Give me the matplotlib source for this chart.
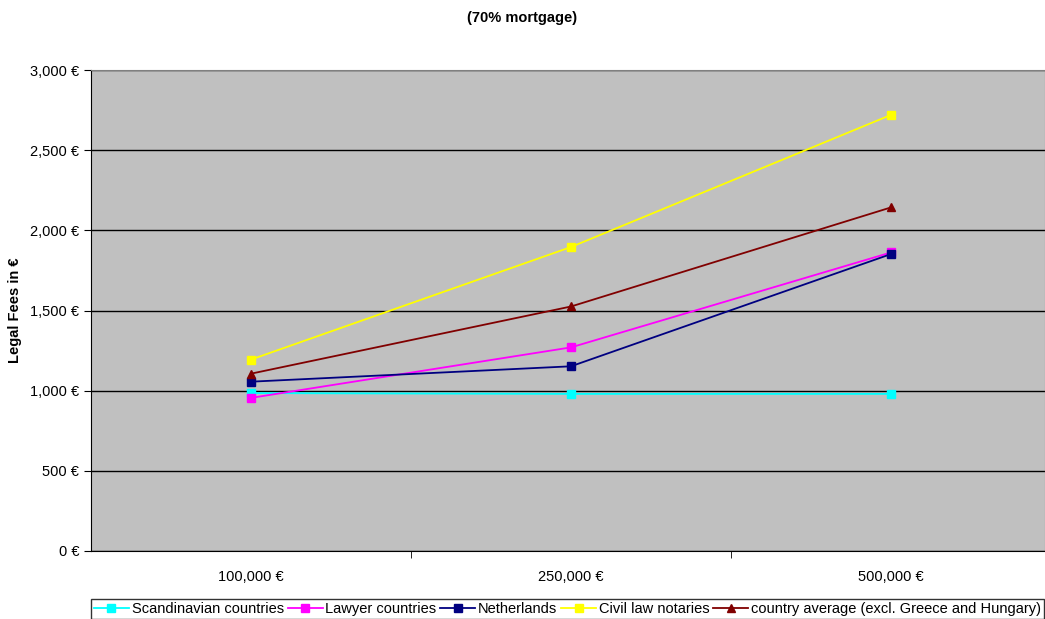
import matplotlib.pyplot as plt
from matplotlib.ticker import FuncFormatter, MultipleLocator

plt.rcParams['font.family'] = ['Liberation Sans', 'DejaVu Sans']

categories = ["100,000 €", "250,000 €", "500,000 €"]
scandinavian = [985, 980, 980]
lawyer = [955, 1270, 1862]
netherlands = [1056, 1152, 1852]
civil_law = [1194, 1896, 2720]
country_avg = [1106, 1525, 2143]

series = [
    ("Scandinavian countries", scandinavian, "#00FFFF", "s"),
    ("Lawyer countries", lawyer, "#FF00FF", "s"),
    ("Netherlands", netherlands, "#000080", "s"),
    ("Civil law notaries", civil_law, "#FFFF00", "s"),
    ("country average (excl. Greece and Hungary)", country_avg, "#800000", "^"),
]

fig = plt.figure(figsize=(10.45, 6.19), dpi=100)
ax = fig.add_axes([91 / 1045, 68 / 619, (1045 - 91) / 1045, 481 / 619])
ax.set_facecolor("#C0C0C0")

x = list(range(len(categories)))
for name, vals, col, mk in series:
    ax.plot(x, vals, color=col, marker=mk, markersize=5.5, lw=1.3, label=name)

ax.set_ylim(0, 3000)
ax.set_xlim(-0.5, -0.5 + 954 / 320)
ax.yaxis.set_major_locator(MultipleLocator(500))
ax.yaxis.set_major_formatter(FuncFormatter(lambda v, p: f"{v:,.0f} €"))
ax.grid(axis="y", color="black", lw=1)
ax.set_axisbelow(True)
ax.set_xticks(x)
ax.set_xticklabels(categories)
ax.set_xticks([0.5, 1.5], minor=True)
ax.tick_params(axis="x", which="major", length=0, pad=14, labelsize=10.5)
ax.tick_params(axis="x", which="minor", length=5, direction="out")
ax.tick_params(axis="y", length=5, labelsize=10.5)
for s in ["top", "right"]:
    ax.spines[s].set_color("#808080")
ax.spines["left"].set_color("black")
ax.spines["bottom"].set_color("black")

ax.set_ylabel("Legal Fees in €", fontsize=10.5, fontweight="bold", labelpad=6)
fig.text(0.5, 1 - 18 / 619, "(70% mortgage)", ha="center", va="center",
         fontsize=10.5, fontweight="bold")

leg = fig.legend(loc="lower left", bbox_to_anchor=(91 / 1045, 0.0, 953 / 1045, 0.04),
                 mode="expand", ncol=5,
                 fontsize=10.5, frameon=True, fancybox=False, edgecolor="black",
                 handlelength=2.4, columnspacing=0.3, handletextpad=0.2,
                 borderpad=0.2, borderaxespad=0.0)
leg.get_frame().set_linewidth(1)

fig.savefig("out.png", dpi=100)
